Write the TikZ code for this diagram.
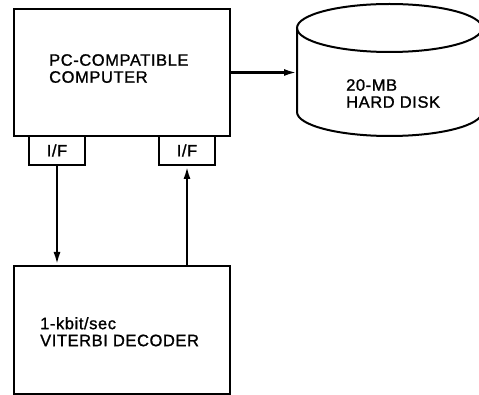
\documentclass[tikz,border=0pt]{standalone}
\usepackage{fontspec}
\setmainfont{Liberation Sans}[LetterSpace=3.5,FakeBold=1.2]
\usetikzlibrary{arrows.meta}
\begin{document}
\begin{tikzpicture}[x=1pt,y=-1pt,
  box/.style={draw, line width=2pt, inner sep=0pt},
  txt/.style={font=\fontsize{16.5}{17}\selectfont},
  lbl/.style={txt, align=left, inner sep=0pt},
  link/.style={line width=2.4pt, -{Latex[length=13pt,width=7pt]}},
  outline/.style={line width=2pt}]
\useasboundingbox (0,0) rectangle (479,395);

% computer with its two interface cards
\node[box, anchor=north west, minimum width=216pt, minimum height=127pt] (pc) at (13,8) {};
\node[lbl, anchor=north west] (pctext) at (49,54) {PC-COMPATIBLE\\COMPUTER};
\node[box, txt, anchor=north west, minimum width=56pt, minimum height=29pt] (ifl) at (28,135) {I/F};
\node[box, txt, anchor=north west, minimum width=56pt, minimum height=29pt] (ifr) at (158,135) {I/F};

% decoder
\node[box, anchor=north west, minimum width=216pt, minimum height=128pt] (dec) at (13,265) {};
\node[lbl, anchor=north west] (dectext) at (40,317) {1-kbit/sec\\VITERBI DECODER};

% hard disk drawn as a cylinder
\draw[outline] (389.5,28) ellipse [x radius=92.5pt, y radius=24pt];
\draw[outline] (297,28) -- (297,112) arc[start angle=180, end angle=360, x radius=92.5pt, y radius=24pt] -- (482,28);
\coordinate (diskside) at (297,70);
\node[lbl, anchor=north west] (disktext) at (346,79) {20-MB\\HARD DISK};

% data paths
\draw[link] (pc.east) -- (pc.east -| diskside);
\draw[link] (ifl.south) -- (ifl.south |- dec.north);
\draw[link] (dec.north -| ifr.south) -- (ifr.south);
\end{tikzpicture}
\end{document}
